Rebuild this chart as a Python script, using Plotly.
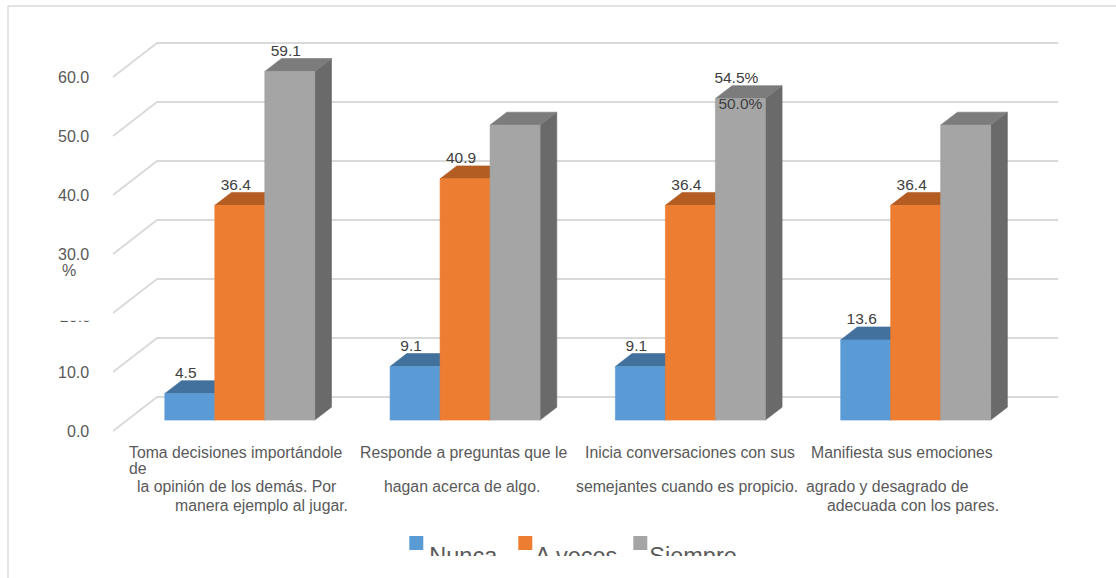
import plotly.graph_objects as go

# ---------------- data ----------------
category_lines = [
    ["Toma decisiones importándole", "de", "la opinión de los demás. Por", "manera ejemplo al jugar."],
    ["Responde a preguntas que le", "hagan acerca de algo."],
    ["Inicia conversaciones con sus", "semejantes cuando es propicio."],
    ["Manifiesta sus emociones", "agrado y desagrado de", "adecuada con los pares."],
]
series_names = ["Nunca", "A veces", "Siempre"]
nunca = [4.5, 9.1, 9.1, 13.6]
a_veces = [36.4, 40.9, 36.4, 36.4]
siempre = [59.1, 50.0, 54.5, 50.0]
nunca_labels = ["4.5", "9.1", "9.1", "13.6"]
a_veces_labels = ["36.4", "40.9", "36.4", "36.4"]
siempre_labels = ["59.1", "", "54.5%", ""]
extra_label_values = [None, None, 50.0, None]
extra_labels = ["", "", "50.0%", ""]
y_ticks = [0, 10, 20, 30, 40, 50, 60]
y_tick_labels = ["0.0", "10.0", "20.0", "30.0", "40.0", "50.0", "60.0"]
y_unit = "%"

# ---------------- layout / style constants ----------------
W_PX, H_PX = 1116, 578
FONT = "Liberation Sans, Arial, sans-serif"
AXIS_COLOR = "#595959"
LABEL_COLOR = "#404040"
GRID_COLOR = "#D9D9D9"

X_RANGE = [-1.0018, 3.9517]    # category units
Y_RANGE = [-24.915, 73.051]    # value units (front plane)
DX, DY = 0.1953, 5.763         # depth vector (front plane -> back wall)
T0, T1 = 0.32, 0.70            # bar depth span
BAR_W = 0.2219
CAT_LEFT, CAT_RIGHT = -0.5, 3.5

FRONT = ["#5B9BD5", "#ED7D31", "#A5A5A5"]
TOP = ["#41719C", "#B35D22", "#7C7C7C"]
SIDE = ["#3E6C95", "#A5551F", "#6A6A6A"]

LINE_POS = [
    [(127, 452.7), (127, 468.5), (135, 486.7), (173, 505)],
    [(358, 452.7), (382, 486.7)],
    [(583, 452.7), (574, 486.7)],
    [(809, 452.7), (804, 486.7), (825, 505)],
]
LEGEND_SQ_X = [409.3, 518.3, 633.3]
LEGEND_TXT_X = [429.3, 535.0, 649.3]


def px(x):
    return x / W_PX


def py(y):
    return 1 - y / H_PX


fig = go.Figure()

# back wall grid lines and floor diagonals
gx, gy = [], []
for v in y_ticks:
    gx += [CAT_LEFT, CAT_LEFT + DX, CAT_RIGHT + DX, None]
    gy += [v, v + DY, v + DY, None]
fig.add_trace(go.Scatter(x=gx, y=gy, mode="lines", line=dict(color=GRID_COLOR, width=1.8),
                         hoverinfo="skip"))

# 3D bars
all_values = [nunca, a_veces, siempre]
for s, vals in enumerate(all_values):
    off = (s - 1) * BAR_W
    fx, fy, tx, ty, sx, sy = [], [], [], [], [], []
    ddx, ddy = (T1 - T0) * DX, (T1 - T0) * DY
    for i, v in enumerate(vals):
        xl = i + off - BAR_W / 2 + T0 * DX
        xr = xl + BAR_W
        yb = T0 * DY
        yt = v + T0 * DY
        fx += [xl, xr, xr, xl, xl, None]
        fy += [yb, yb, yt, yt, yb, None]
        tx += [xl, xr, xr + ddx, xl + ddx, xl, None]
        ty += [yt, yt, yt + ddy, yt + ddy, yt, None]
        sx += [xr, xr + ddx, xr + ddx, xr, xr, None]
        sy += [yb, yb + ddy, yt + ddy, yt, yb, None]
    for xs, ys, col in ((sx, sy, SIDE[s]), (tx, ty, TOP[s]), (fx, fy, FRONT[s])):
        fig.add_trace(go.Scatter(x=xs, y=ys, mode="lines", fill="toself", fillcolor=col,
                                 line=dict(color=col, width=0.6), hoverinfo="skip"))

# data labels
all_labels = [nunca_labels, a_veces_labels, siempre_labels]
LBL_DX = -4 / 225.3
LBL_DY = 19.5 / 5.9
for s, (vals, labs) in enumerate(zip(all_values, all_labels)):
    off = (s - 1) * BAR_W
    xs = [i + off + T0 * DX + LBL_DX for i in range(len(vals))]
    ys = [v + T0 * DY + LBL_DY for v in vals]
    fig.add_trace(go.Scatter(x=xs, y=ys, mode="text", text=labs, textposition="middle center",
                             textfont=dict(family=FONT, size=15.5, color=LABEL_COLOR),
                             hoverinfo="skip", cliponaxis=False))
# extra stray label
ex, ey, et = [], [], []
for i, (v, t) in enumerate(zip(extra_label_values, extra_labels)):
    if v is not None:
        ex.append(i + BAR_W + T0 * DX)
        ey.append(v + T0 * DY + LBL_DY)
        et.append(t)
fig.add_trace(go.Scatter(x=ex, y=ey, mode="text", text=et, textposition="middle center",
                         textfont=dict(family=FONT, size=15.5, color=LABEL_COLOR),
                         hoverinfo="skip", cliponaxis=False))

annotations = []
# y tick labels
for v, t in zip(y_ticks, y_tick_labels):
    if t == "20.0":
        continue
    annotations.append(dict(x=px(91), xref="paper", y=v, yref="y", text=t, showarrow=False,
                            xanchor="right", yanchor="middle",
                            font=dict(family=FONT, size=16, color=AXIS_COLOR)))
annotations.append(dict(x=px(59.5), xref="paper", y=py(270.5), yref="paper", text=y_unit,
                        showarrow=False, xanchor="left", yanchor="middle",
                        font=dict(family=FONT, size=16, color=AXIS_COLOR)))

# category labels
for lines, poss in zip(category_lines, LINE_POS):
    for t, (x0, y0) in zip(lines, poss):
        annotations.append(dict(x=px(x0), xref="paper", y=py(y0), yref="paper", text=t,
                                showarrow=False, xanchor="left", yanchor="middle",
                                font=dict(family=FONT, size=15.8, color=AXIS_COLOR)))

# clipped stray tick label "20.0" (only the bottom edge of the glyphs shows)
fig.add_trace(go.Scatter(x=[91], y=[318.0], mode="text", text=[y_tick_labels[2]],
                         textposition="middle left", xaxis="x3", yaxis="y3",
                         textfont=dict(family=FONT, size=16, color=AXIS_COLOR),
                         hoverinfo="skip", cliponaxis=True))

# legend (text clipped at bottom like the original)
fig.add_trace(go.Scatter(x=LEGEND_TXT_X, y=[558.5] * 3, mode="text", text=series_names,
                         textposition="middle right", xaxis="x2", yaxis="y2",
                         textfont=dict(family=FONT, size=23.5, color=AXIS_COLOR),
                         hoverinfo="skip", cliponaxis=True))

shapes = []
for x0, col in zip(LEGEND_SQ_X, FRONT):
    shapes.append(dict(type="rect", xref="paper", yref="paper", x0=px(x0), x1=px(x0 + 14),
                       y0=py(550), y1=py(536), fillcolor=col, line=dict(width=0)))
# chart border (top and left edges visible)
shapes.append(dict(type="line", xref="paper", yref="paper", x0=px(8), x1=1.0, y0=py(6), y1=py(6),
                   line=dict(color=GRID_COLOR, width=1.3)))
shapes.append(dict(type="line", xref="paper", yref="paper", x0=px(8), x1=px(8), y0=py(6), y1=0,
                   line=dict(color=GRID_COLOR, width=1.3)))

hidden = dict(visible=False, showgrid=False, zeroline=False, fixedrange=True)
fig.update_layout(
    width=W_PX, height=H_PX,
    margin=dict(l=0, r=0, t=0, b=0),
    paper_bgcolor="white", plot_bgcolor="rgba(0,0,0,0)",
    showlegend=False,
    xaxis=dict(domain=[0, 1], range=X_RANGE, **hidden),
    yaxis=dict(domain=[0, 1], range=Y_RANGE, **hidden),
    xaxis2=dict(domain=[0, 1], range=[0, W_PX], anchor="y2", **hidden),
    yaxis2=dict(domain=[py(556), py(520)], range=[556, 520], anchor="x2", **hidden),
    xaxis3=dict(domain=[0, 1], range=[0, W_PX], anchor="y3", **hidden),
    yaxis3=dict(domain=[py(322.8), py(320.8)], range=[322.8, 320.8], anchor="x3", **hidden),
    annotations=annotations,
    shapes=shapes,
)

fig.write_html(
    "out.html",
    config={"displayModeBar": False},
    post_script="document.body.style.margin='0';document.body.style.overflow='hidden';",
)
